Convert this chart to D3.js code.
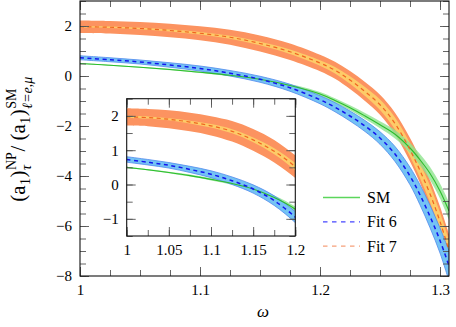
<!DOCTYPE html>
<html>
<head>
<meta charset="utf-8">
<script src="https://cdn.jsdelivr.net/npm/d3@7"></script>
<style>
  body { margin: 0; background: #fff; }
  text { font-family: "Liberation Serif", "Times New Roman", serif; fill: #000; }
</style>
</head>
<body>
<svg id="chart" width="456" height="327"></svg>
<script>
// values, on a shared omega grid
const omega = [1, 1.025, 1.05, 1.075, 1.1, 1.125, 1.15, 1.175, 1.2, 1.2125, 1.225, 1.2375, 1.25, 1.2625, 1.275, 1.2833, 1.2917, 1.3, 1.3075]

const sm    = [0.50, 0.43, 0.35, 0.26, 0.15, 0.03, -0.13, -0.38, -0.72, -0.98, -1.27, -1.60, -1.95, -2.33, -2.88, -3.35, -3.90, -4.60, -5.40]
const smErr = [0.02, 0.02, 0.02, 0.03, 0.03, 0.04, 0.05, 0.06, 0.08, 0.09, 0.10, 0.12, 0.14, 0.17, 0.20, 0.23, 0.26, 0.30, 0.35]

const fit6    = [0.73, 0.65, 0.56, 0.44, 0.30, 0.11, -0.13, -0.47, -0.95, -1.25, -1.60, -2.00, -2.48, -3.12, -4.00, -4.75, -5.62, -6.58, -7.60]
const fit6Err = [0.08, 0.08, 0.08, 0.09, 0.10, 0.11, 0.12, 0.14, 0.16, 0.18, 0.20, 0.22, 0.25, 0.30, 0.35, 0.40, 0.45, 0.50, 0.60]

const fit7      = [1.97, 1.95, 1.90, 1.82, 1.71, 1.55, 1.30, 0.97, 0.52, 0.23, -0.16, -0.62, -1.15, -1.90, -2.95, -3.78, -4.72, -5.82, -6.98]
const fit7Err   = [0.25, 0.25, 0.26, 0.27, 0.28, 0.30, 0.32, 0.33, 0.33, 0.34, 0.36, 0.38, 0.40, 0.43, 0.47, 0.50, 0.55, 0.60, 0.66]
const fit7Inner = [0.03, 0.03, 0.03, 0.04, 0.05, 0.06, 0.07, 0.09, 0.11, 0.13, 0.15, 0.18, 0.21, 0.24, 0.27, 0.30, 0.33, 0.36, 0.40]

const xTicks = [1, 1.1, 1.2, 1.3]
const yTicks = [-8, -6, -4, -2, 0, 2]
const insetXTicks = [1, 1.05, 1.1, 1.15, 1.2]
const insetYTicks = [-1, 0, 1, 2]
const legendLabels = ["SM", "Fit 6", "Fit 7"]

const serif = '"Liberation Serif", "Times New Roman", Times, serif'
const svg = d3.select("#chart")

function rows(vals, errs) {
  return omega.map((w, i) => ({ w: w, v: vals[i], e: errs[i] }))
}

function range(a, b, step) {
  let out = []
  for (let k = 0; a + k * step <= b + 1e-9; k++) out.push(+(a + k * step).toFixed(4))
  return out
}

function drawPanel(g, x, y, clipId) {
  const [x0, x1] = x.range(), [y0, y1] = y.range()

  svg.append("clipPath").attr("id", clipId)
    .append("rect").attr("x", x0).attr("y", y1).attr("width", x1 - x0).attr("height", y0 - y1)

  const body = g.append("g").attr("clip-path", `url(#${clipId})`)

  const smooth = d3.curveCatmullRom.alpha(0.5)
  const band = d3.area()
      .x(d => x(d.w))
      .y0(d => y(d.v - d.e))
      .y1(d => y(d.v + d.e))
      .curve(smooth)
  const line = d3.line()
      .x(d => x(d.w))
      .y(d => y(d.v))
      .curve(smooth)

  body.append("path").attr("d", band(rows(fit7, fit7Err))).attr("fill", "#fc9360")
  body.append("path").attr("d", band(rows(fit7, fit7Inner))).attr("fill", "#fdcb68")
  body.append("path").attr("d", band(rows(sm, smErr))).attr("fill", "#8fe48f").attr("opacity", 0.8)
  body.append("path").attr("d", band(rows(fit6, fit6Err)))
      .attr("fill", "#74c3f4").attr("stroke", "#5089ee").attr("stroke-width", 0.8)

  body.append("path").attr("d", line(rows(sm, smErr)))
      .attr("fill", "none").attr("stroke", "#2cbd2c").attr("stroke-width", 1.1)
  body.append("path").attr("d", line(rows(fit6, fit6Err)))
      .attr("fill", "none").attr("stroke", "#1414ee").attr("stroke-width", 1.5).attr("stroke-dasharray", "4,3.5")
  body.append("path").attr("d", line(rows(fit7, fit7Err)))
      .attr("fill", "none").attr("stroke", "#f06420").attr("stroke-width", 1.2).attr("stroke-dasharray", "4,3.5")
}

function drawAxes(g, x, y, xMajor, xMinor, yMajor, yMinor, xFmt) {
  const [x0, x1] = x.range(), [y0, y1] = y.range()
  const big = 9, small = 6

  const put = (axis, tx, ty) => {
    const a = g.append("g").attr("transform", `translate(${tx},${ty})`).call(axis)
    a.attr("font-family", null).attr("font-size", null)
    a.select(".domain").remove()
    a.selectAll("line").attr("stroke", "#555").attr("stroke-width", 0.9)
    a.selectAll("text").style("font-size", "15px").style("font-family", serif)
    return a
  }

  put(d3.axisBottom(x).tickValues(xMinor).tickSize(-small).tickFormat(""), 0, y0)
  put(d3.axisTop(x).tickValues(xMinor).tickSize(-small).tickFormat(""), 0, y1)
  put(d3.axisBottom(x).tickValues(xMajor).tickSize(-big).tickPadding(5).tickFormat(xFmt), 0, y0)
    .selectAll("text").attr("dy", "0.9em")
  put(d3.axisTop(x).tickValues(xMajor).tickSize(-big).tickFormat(""), 0, y1)

  put(d3.axisLeft(y).tickValues(yMinor).tickSize(-small).tickFormat(""), x0, 0)
  put(d3.axisRight(y).tickValues(yMinor).tickSize(-small).tickFormat(""), x1, 0)
  put(d3.axisLeft(y).tickValues(yMajor).tickSize(-big).tickPadding(8).tickFormat(d3.format("d")), x0, 0)
  put(d3.axisRight(y).tickValues(yMajor).tickSize(-big).tickFormat(""), x1, 0)

  g.append("rect").attr("x", x0).attr("y", y1).attr("width", x1 - x0).attr("height", y0 - y1)
      .attr("fill", "none").attr("stroke", "#111").attr("stroke-width", 1.1)
}

//
// Main panel
//
const x = d3.scaleLinear().domain([1, 1.3075]).range([80, 449])
const y = d3.scaleLinear().domain([-8, 3]).range([276, 1])

const main = svg.append("g")
drawPanel(main, x, y, "clipMain")
drawAxes(main, x, y, xTicks, range(1, 1.3, 0.025), yTicks, range(-8, 3, 0.5), d3.format("~g"))

//
// Inset
//
const xi = d3.scaleLinear().domain([1, 1.2]).range([126.7, 295.3])
const yi = d3.scaleLinear().domain([-1.5, 2.5]).range([236, 98.7])

const inset = svg.append("g")
inset.append("rect").attr("x", 126.7).attr("y", 98.7).attr("width", 168.6).attr("height", 137.3).attr("fill", "#fff")
drawPanel(inset, xi, yi, "clipInset")
drawAxes(inset, xi, yi, insetXTicks, range(1, 1.2, 0.025), insetYTicks, range(-1.5, 2.5, 0.5), d3.format("~g"))

//
// Legend
//
const legendStyle = [
  { color: "#5cd65c", dash: null, width: 1.3 },
  { color: "#4646ff", dash: "4.5,4.5", width: 1.3 },
  { color: "#f6a07a", dash: "4.5,4.5", width: 1.3 }
]
const legend = svg.append("g").attr("transform", "translate(323,197.5)")
legendLabels.forEach((name, i) => {
  const s = legendStyle[i]
  legend.append("line")
      .attr("x1", 0).attr("x2", 37).attr("y1", i * 24.3).attr("y2", i * 24.3)
      .attr("stroke", s.color).attr("stroke-width", s.width)
      .attr("stroke-dasharray", s.dash)
  legend.append("text")
      .attr("x", 44).attr("y", i * 24.3 + 5.5)
      .style("font-size", "16px").style("font-family", serif)
      .text(name)
})

//
// Axis labels
//
svg.append("text")
    .attr("x", 263).attr("y", 317)
    .attr("text-anchor", "middle")
    .style("font-size", "17px").style("font-style", "italic").style("font-family", serif)
    .text("ω")

// y label, built piece by piece so scripts can stack
const ylab = svg.append("g").attr("transform", "translate(25,139) rotate(-90)")
const inner = ylab.append("g")
const M = 21, S = 14
const pieces = [
  [{ t: "(a", size: M, dy: 0 }],
  [{ t: "1", size: S, dy: 0.22 * M }],
  [{ t: ")", size: M, dy: 0 }],
  [{ t: "NP", size: S, dy: -0.42 * M }, { t: "τ", size: S, dy: 0.3 * M, it: true }],
  [{ t: " / (a", size: M, dy: 0 }],
  [{ t: "1", size: S, dy: 0.22 * M }],
  [{ t: ")", size: M, dy: 0 }],
  [{ t: "SM", size: S, dy: -0.42 * M }, { t: "ℓ=e,μ", size: S, dy: 0.32 * M, it: true }]
]
let cursor = 0
pieces.forEach(stack => {
  let w = 0
  stack.forEach(p => {
    const el = inner.append("text")
        .attr("x", cursor).attr("y", p.dy)
        .style("font-size", p.size + "px")
        .style("font-family", serif)
        .style("font-style", p.it ? "italic" : "normal")
        .text(p.t)
    w = Math.max(w, el.node().getComputedTextLength())
  })
  cursor += w + 0.5
})
inner.attr("transform", `translate(${-cursor / 2},0)`)
</script>
</body>
</html>
